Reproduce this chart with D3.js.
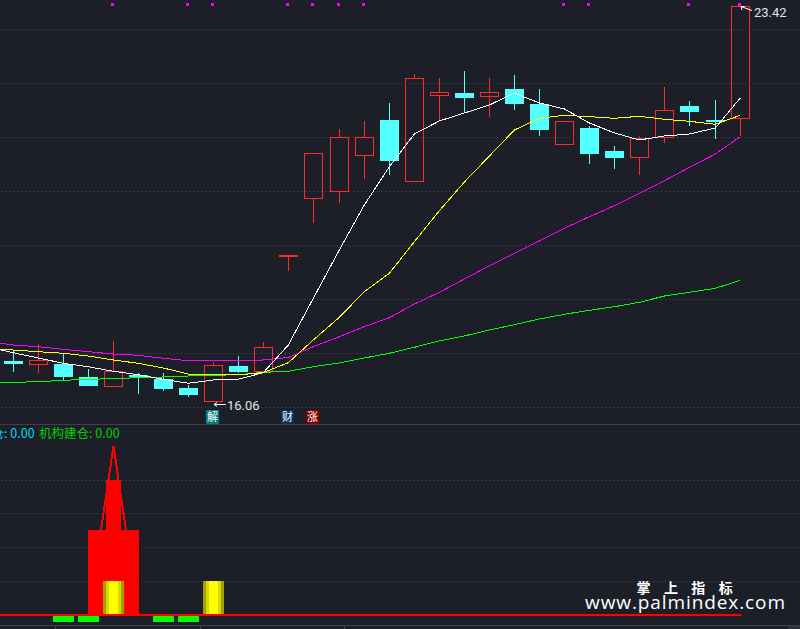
<!DOCTYPE html>
<html lang="en">

<head>
    <meta charset="utf-8">
    <style>
        html, body { margin: 0; padding: 0; background: #1c1f28; overflow: hidden; }
        svg { display: block; }
    </style>
</head>

<body>
    <script src='https://d3js.org/d3.v7.min.js'></script>
    <script>

        // candles
        const opens = [16.82, 16.77, 16.77, 16.52, 16.36, 16.56, 16.49, 16.32, 16.07, 16.73, 16.63, 18.79, 19.85, 19.98, 20.65, 21.30, 20.16, 21.77, 21.80, 21.76, 21.88, 21.60, 20.86, 21.15, 20.73, 20.62, 20.98, 21.56, 21.30, 21.33];
        const closes = [16.79, 16.84, 16.55, 16.38, 16.63, 16.55, 16.33, 16.20, 16.74, 16.64, 17.08, 18.79, 20.68, 20.98, 20.98, 20.55, 22.08, 21.82, 21.72, 21.83, 21.62, 21.14, 21.28, 20.69, 20.61, 20.97, 21.48, 21.47, 21.29, 23.42];
        const highs = [17.03, 17.14, 16.97, 16.67, 17.19, 16.60, 16.60, 16.38, 16.81, 16.92, 17.17, 18.79, 20.68, 21.13, 21.28, 21.61, 22.16, 22.08, 22.21, 22.08, 22.14, 21.88, 21.28, 21.19, 20.82, 21.00, 21.91, 21.65, 21.67, 23.42];
        const lows = [16.62, 16.60, 16.47, 16.36, 16.33, 16.21, 16.27, 16.16, 16.06, 16.59, 16.59, 18.49, 19.38, 19.76, 20.21, 20.27, 20.16, 21.28, 21.45, 21.36, 21.49, 21.00, 20.86, 20.48, 20.39, 20.28, 20.87, 21.19, 20.95, 21.00];

        // moving averages, first value is the bar just left of the window
        const ma5 = [17.082, 16.976, 16.878, 16.779, 16.716, 16.631, 16.567, 16.482, 16.408, 16.469, 16.482, 16.605, 17.119, 17.987, 18.885, 19.721, 20.433, 21.041, 21.283, 21.431, 21.580, 21.803, 21.617, 21.506, 21.245, 21.060, 20.930, 21.004, 21.041, 21.153, 21.710];
        const ma10 = [17.045, 17.026, 16.995, 16.965, 16.915, 16.841, 16.779, 16.692, 16.580, 16.571, 16.562, 16.608, 16.790, 17.212, 17.634, 18.110, 18.452, 19.039, 19.615, 20.149, 20.632, 21.115, 21.333, 21.389, 21.363, 21.333, 21.370, 21.314, 21.277, 21.221, 21.389];
        const ma20 = [17.184, 17.119, 17.088, 17.039, 16.995, 16.952, 16.928, 16.872, 16.828, 16.828, 16.822, 16.841, 16.887, 17.088, 17.274, 17.460, 17.627, 17.881, 18.099, 18.346, 18.593, 18.824, 19.052, 19.288, 19.504, 19.708, 19.939, 20.173, 20.422, 20.669, 20.991];
        const ma60 = [16.413, 16.426, 16.437, 16.463, 16.482, 16.493, 16.512, 16.525, 16.543, 16.556, 16.567, 16.612, 16.631, 16.716, 16.785, 16.878, 16.965, 17.077, 17.194, 17.287, 17.398, 17.497, 17.603, 17.690, 17.764, 17.831, 17.913, 18.030, 18.099, 18.173, 18.322];

        const gridPrices = [22.987, 21.983, 20.980, 19.976, 18.972, 17.969, 16.965, 15.961];
        const markerBars = [4, 7, 8, 11, 12, 13, 14, 22, 23, 27, 29];
        const tagBars = [8, 11, 12];
        const tagTexts = ["解", "财", "涨"];
        const tagColors = ["#008080", "#0a3060", "#800000"];

        // lower pane
        const lowerGrid = [1, 2, 3, 4];
        const wideBars = [0, 0, 0, 0, 2.5, 0, 0, 0, 0, 0, 0, 0, 0, 0, 0, 0, 0, 0, 0, 0, 0, 0, 0, 0, 0, 0, 0, 0, 0, 0];
        const narrowBars = [0, 0, 0, 0, 4, 0, 0, 0, 0, 0, 0, 0, 0, 0, 0, 0, 0, 0, 0, 0, 0, 0, 0, 0, 0, 0, 0, 0, 0, 0];
        const spikeBars = [0, 0, 0, 0, 5, 0, 0, 0, 0, 0, 0, 0, 0, 0, 0, 0, 0, 0, 0, 0, 0, 0, 0, 0, 0, 0, 0, 0, 0, 0];
        const goldBars = [0, 0, 0, 0, 1, 0, 0, 0, 1, 0, 0, 0, 0, 0, 0, 0, 0, 0, 0, 0, 0, 0, 0, 0, 0, 0, 0, 0, 0, 0];
        const greenBars = [0, 0, -0.2, -0.2, 0, 0, -0.2, -0.2, 0, 0, 0, 0, 0, 0, 0, 0, 0, 0, 0, 0, 0, 0, 0, 0, 0, 0, 0, 0, 0, 0];
        const axisTicks = [55, 200, 344];

        const width = 800;
        const height = 629;
        const red = "#ff2a2a";
        const cyan = "#54ffff";
        const gridColor = "#4a4d55";
        const cjk = "'Noto Sans CJK SC', sans-serif";

        // the source snaps bars to whole pixels, so the spacing is not quite even
        var x = d3.scaleLinear().domain([0, 12, 13, 27, 28, 29]).range([13.3, 313.3, 339.3, 689.5, 715.3, 740.3]);
        var y = d3.scaleLinear().domain([16.06, 23.42]).range([402, 6]);
        var lower = d3.scaleLinear().domain([0, 5]).range([615, 445.7]);

        // pixel column of a bar
        function px(i) {
            return Math.floor(x(i));
        }

        var svg = d3.select("body")
            .append("svg")
            .attr("width", width)
            .attr("height", height)
            .style("background", "#1c1f28");

        // grids
        svg.selectAll(".grid")
            .data(gridPrices)
            .enter()
            .append("line")
            .attr("class", "grid")
            .attr("x1", 1).attr("x2", width)
            .attr("y1", d => Math.round(y(d)) + 0.5)
            .attr("y2", d => Math.round(y(d)) + 0.5)
            .attr("stroke", gridColor)
            .attr("stroke-dasharray", "1 3");

        svg.selectAll(".lgrid")
            .data(lowerGrid)
            .enter()
            .append("line")
            .attr("class", "lgrid")
            .attr("x1", 1).attr("x2", width)
            .attr("y1", d => Math.round(lower(d)) + 0.5)
            .attr("y2", d => Math.round(lower(d)) + 0.5)
            .attr("stroke", gridColor)
            .attr("stroke-dasharray", "1 3");

        // pane divider and time axis
        svg.append("rect").attr("x", 0).attr("y", 424).attr("width", width).attr("height", 1).attr("fill", "#3c404b");
        svg.append("rect").attr("x", 0).attr("y", 625).attr("width", width).attr("height", 1).attr("fill", "#3c404b");
        svg.append("rect").attr("x", 788).attr("y", 626).attr("width", 12).attr("height", 3).attr("fill", "#30343e");
        svg.selectAll(".tick")
            .data(axisTicks)
            .enter()
            .append("rect")
            .attr("class", "tick")
            .attr("x", d => d).attr("y", 626)
            .attr("width", 1).attr("height", 3)
            .attr("fill", "#3c404b");

        // candles
        var candles = svg.selectAll(".candle")
            .data(opens.map((o, i) => i))
            .enter()
            .append("g")
            .attr("class", "candle")
            .attr("shape-rendering", "crispEdges");

        function candleColor(i) {
            return closes[i] >= opens[i] ? red : cyan;
        }

        candles.append("line")
            .attr("x1", i => px(i) + 0.5).attr("x2", i => px(i) + 0.5)
            .attr("y1", i => y(highs[i]))
            .attr("y2", i => y(Math.max(opens[i], closes[i])))
            .attr("stroke", candleColor);

        candles.append("line")
            .attr("x1", i => px(i) + 0.5).attr("x2", i => px(i) + 0.5)
            .attr("y1", i => y(Math.min(opens[i], closes[i])))
            .attr("y2", i => y(lows[i]))
            .attr("stroke", candleColor);

        candles.append("rect")
            .attr("x", i => px(i) - 9 + 0.5)
            .attr("width", 18)
            .attr("y", i => Math.round(y(Math.max(opens[i], closes[i]))) + 0.5)
            .attr("height", i => Math.max(1, Math.round(Math.abs(y(opens[i]) - y(closes[i])))))
            .attr("fill", i => closes[i] >= opens[i] ? "none" : cyan)
            .attr("stroke", candleColor);

        // moving average lines
        var maLine = d3.line()
            .x((d, i) => i == 0 ? x(0) - 25 : x(i - 1))
            .y(d => y(d));

        [[ma60, "#00ff00"], [ma20, "#ff00ff"], [ma10, "#ffff00"], [ma5, "#ffffff"]].forEach(function (s) {
            svg.append("path")
                .attr("d", maLine(s[0]))
                .attr("fill", "none")
                .attr("stroke", s[1])
                .attr("stroke-width", 1)
                .attr("shape-rendering", "crispEdges");
        });

        // signal squares along the top
        svg.selectAll(".marker")
            .data(markerBars)
            .enter()
            .append("rect")
            .attr("class", "marker")
            .attr("x", d => px(d) - 2)
            .attr("y", 3)
            .attr("width", 3).attr("height", 3)
            .attr("fill", "#ff00ff");

        // low and high price notes
        svg.append("path")
            .attr("d", "M" + (px(8) + 1) + "," + (y(16.06) + 2.5) + "h12M" + (px(8) + 1) + "," + (y(16.06) + 2.5) + "l3,-2M" + (px(8) + 1) + "," + (y(16.06) + 2.5) + "l3,2")
            .attr("stroke", "#ffffff").attr("fill", "none");
        svg.append("text")
            .attr("x", px(8) + 14).attr("y", y(16.06) + 7.5)
            .attr("fill", "#e4e4e4")
            .style("font", "13px Roboto, sans-serif")
            .text("16.06");

        svg.append("path")
            .attr("d", "M" + (px(29) + 1) + "," + (y(23.42) + 0.5) + "l11,4M" + (px(29) + 1) + "," + (y(23.42) + 0.5) + "l3.5,0M" + (px(29) + 1) + "," + (y(23.42) + 0.5) + "l1,3.5")
            .attr("stroke", "#ffffff").attr("fill", "none");
        svg.append("text")
            .attr("x", px(29) + 14).attr("y", y(23.42) + 11)
            .attr("fill", "#e4e4e4")
            .style("font", "13px Roboto, sans-serif")
            .text("23.42");

        // event tags
        var tags = svg.selectAll(".tag")
            .data(tagBars)
            .enter()
            .append("g")
            .attr("class", "tag");
        tags.append("rect")
            .attr("x", d => px(d) - 7)
            .attr("y", 410)
            .attr("width", 13).attr("height", 14)
            .attr("fill", (d, i) => tagColors[i]);
        tags.append("text")
            .attr("x", d => px(d) - 0.5)
            .attr("y", 421)
            .attr("text-anchor", "middle")
            .attr("fill", "#ffffff")
            .style("font", "11px " + cjk)
            .text((d, i) => tagTexts[i]);

        // lower pane labels
        svg.append("text")
            .attr("x", -46).attr("y", 437.5)
            .attr("fill", "#00d8e8")
            .style("font", "12.5px " + cjk)
            .text("主力建仓: 0.00");
        svg.append("text")
            .attr("x", 39).attr("y", 437.5)
            .attr("fill", "#00d000")
            .style("font", "12.5px " + cjk)
            .text("机构建仓: 0.00");

        // lower pane bars
        svg.selectAll(".wide")
            .data(wideBars.map((v, i) => [v, i]).filter(d => d[0] > 0))
            .enter()
            .append("rect")
            .attr("class", "wide")
            .attr("x", d => px(d[1]) - 25)
            .attr("width", 51)
            .attr("y", d => lower(d[0]))
            .attr("height", d => lower(0) + 1 - lower(d[0]))
            .attr("fill", "#ff0000")
            .attr("shape-rendering", "crispEdges");

        svg.selectAll(".narrow")
            .data(narrowBars.map((v, i) => [v, i]).filter(d => d[0] > 0))
            .enter()
            .append("rect")
            .attr("class", "narrow")
            .attr("x", d => px(d[1]) - 7)
            .attr("width", 15)
            .attr("y", d => lower(d[0]))
            .attr("height", d => lower(0) - lower(d[0]))
            .attr("fill", "#ff0000")
            .attr("shape-rendering", "crispEdges");

        svg.selectAll(".spike")
            .data(spikeBars.map((v, i) => [v, i]).filter(d => d[0] > 0))
            .enter()
            .append("path")
            .attr("class", "spike")
            .attr("d", d => d3.line()([
                [px(d[1]) - 12, lower(wideBars[d[1]])],
                [px(d[1]) + 0.5, lower(d[0])],
                [px(d[1]) + 13, lower(wideBars[d[1]])]
            ]))
            .attr("fill", "none")
            .attr("stroke", "#ff0000")
            .attr("stroke-width", 2)
            .attr("shape-rendering", "crispEdges");

        // striped gold bars, outside in
        const goldWidths = [21, 15, 9];
        const goldShades = ["#a0a000", "#d8d800", "#ffff00"];
        var gold = svg.selectAll(".gold")
            .data(goldBars.map((v, i) => [v, i]).filter(d => d[0] > 0))
            .enter()
            .append("g")
            .attr("class", "gold")
            .attr("shape-rendering", "crispEdges");
        goldWidths.forEach(function (w, k) {
            gold.append("rect")
                .attr("x", d => px(d[1]) + 0.5 - w / 2)
                .attr("width", w)
                .attr("y", d => lower(d[0]))
                .attr("height", d => lower(0) + 1 - lower(d[0]))
                .attr("fill", goldShades[k]);
        });

        svg.selectAll(".green")
            .data(greenBars.map((v, i) => [v, i]).filter(d => d[0] < 0))
            .enter()
            .append("rect")
            .attr("class", "green")
            .attr("x", d => px(d[1]) - 10)
            .attr("width", 21)
            .attr("y", lower(0))
            .attr("height", d => lower(d[0]) - lower(0))
            .attr("fill", "#00ff00")
            .attr("shape-rendering", "crispEdges");

        // zero line
        svg.append("rect")
            .attr("x", 0).attr("y", lower(0) - 1)
            .attr("width", x(29) + 1).attr("height", 2)
            .attr("fill", "#ff0000");

        // watermark
        ["掌", "上", "指", "标"].forEach(function (c, i) {
            svg.append("text")
                .attr("x", 643.5 + i * 27.4).attr("y", 593)
                .attr("text-anchor", "middle")
                .attr("fill", "#ffffff")
                .style("font", "bold 14px " + cjk)
                .text(c);
        });
        svg.append("text")
            .attr("x", 585).attr("y", 609)
            .attr("textLength", 200)
            .attr("fill", "#ffffff")
            .style("font", "19px 'Open Sans', sans-serif")
            .text("www.palmindex.com");

    </script>

</body>

</html>
